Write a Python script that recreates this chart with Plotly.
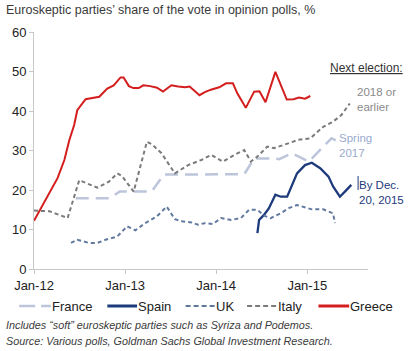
import plotly.graph_objects as go

# x values: months since Jan-2012
tick_vals = [0, 12, 24, 36]
tick_text = ["Jan-12", "Jan-13", "Jan-14", "Jan-15"]
y_ticks = [0, 10, 20, 30, 40, 50, 60]

france_x = [5.5, 9.9, 11.3, 15.5, 17.1, 27.7, 29.0, 31.5, 32.3, 34.0, 36.2, 39.2, 40.1]
france_y = [17.9, 17.9, 19.6, 19.6, 23.9, 24.0, 28.0, 28.0, 27.8, 29.3, 27.2, 33.1, 32.2]

spain_x = [29.43, 29.65, 30.3, 30.95, 31.8, 32.5, 33.35, 34.65, 35.7, 36.6, 37.7, 38.8, 39.4, 40.3, 40.96, 41.8]
spain_y = [9.1, 12.4, 13.7, 15.4, 18.8, 18.3, 18.3, 24.2, 26.3, 26.9, 25.5, 23.4, 20.9, 18.3, 19.6, 21.3]

uk_x = [4.87, 5.7, 7.26, 8.35, 9.43, 10.96, 12.26, 13.35, 14.65, 16.17, 17.48, 18.56, 19.66, 20.74, 21.6,
        22.47, 23.57, 24.65, 25.96, 27.26, 28.34, 29.43, 30.3, 31.17, 32.48, 33.56, 34.65, 35.5, 36.6, 38.1,
        39.4, 39.65]
uk_y = [6.6, 7.4, 6.6, 6.6, 7.4, 8.2, 10.8, 9.8, 11.6, 13.3, 15.8, 12.6, 12.0, 11.8, 11.2,
        11.6, 11.4, 12.9, 12.4, 12.9, 15.0, 15.0, 13.5, 12.9, 14.1, 15.4, 16.2, 15.8, 15.1, 15.1,
        14.1, 11.6]

italy_x = [0, 2.05, 4.43, 5.96, 6.8, 8.35, 9.87, 10.96, 11.6, 13.13, 14.87, 15.5, 16.8, 18.56, 20.3,
           22.04, 23.35, 24.87, 26.4, 27.7, 28.57, 29.4, 30.74, 31.6, 32.87, 34.83, 36.4, 38.1, 39.4,
           40.5, 41.6]
italy_y = [14.8, 14.6, 12.9, 22.5, 21.8, 20.6, 22.1, 24.2, 23.5, 19.6, 32.2, 31.6, 29.3, 24.2, 26.3,
           27.6, 28.9, 27.2, 28.9, 30.1, 27.2, 28.4, 31.0, 30.6, 31.4, 32.7, 33.1, 36.0, 37.3,
           39.0, 41.9]

greece_x = [0, 1.6, 3.1, 4.0, 4.65, 5.3, 5.7, 6.8, 7.9, 8.6, 9.65, 10.5, 11.4, 11.8, 12.5, 13.1, 13.8,
            14.4, 15.3, 16.2, 17.0, 18.1, 19.0, 19.9, 20.5, 21.8, 22.5, 23.3, 24.4, 25.3, 26.2, 26.8,
            27.9, 29.0, 29.7, 30.5, 31.8, 33.3, 34.2, 34.9, 35.7, 36.4]
greece_y = [12.2, 17.9, 23.0, 27.6, 32.6, 36.5, 40.2, 43.0, 43.4, 43.6, 45.7, 46.5, 48.5, 48.5, 46.3,
            45.8, 45.8, 46.5, 46.3, 45.9, 44.9, 46.5, 46.2, 46.0, 46.2, 44.0, 44.8, 45.4, 46.0, 47.0,
            47.0, 44.4, 40.8, 44.9, 45.0, 42.2, 49.9, 42.9, 43.0, 43.4, 43.1, 43.8]

series_names = ["France", "Spain", "UK", "Italy", "Greece"]

FONT = "Liberation Sans, Arial, sans-serif"
styles = {
    "France": dict(color="#bcc5da", width=2.5, dash="13px,7px"),
    "Spain": dict(color="#1d3a7c", width=2.3),
    "UK": dict(color="#62799f", width=2, dash="4px,3px"),
    "Italy": dict(color="#7a7a7a", width=2, dash="4px,3px"),
    "Greece": dict(color="#d41e1e", width=2),
}
data = {
    "France": (france_x, france_y),
    "Spain": (spain_x, spain_y),
    "UK": (uk_x, uk_y),
    "Italy": (italy_x, italy_y),
    "Greece": (greece_x, greece_y),
}

fig = go.Figure()
for name in series_names:
    xs, ys = data[name]
    fig.add_trace(go.Scatter(x=xs, y=ys, name=name, mode="lines", line=styles[name],
                             showlegend=False))

fig.update_layout(
    width=420, height=351,
    margin=dict(l=31, r=52, t=32, b=82),
    paper_bgcolor="white", plot_bgcolor="white",
    font=dict(family=FONT, size=13, color="#222222"),
    showlegend=False,
    xaxis=dict(range=[0, 44], tickvals=tick_vals, ticktext=tick_text, showgrid=False,
               zeroline=False, showline=True, linecolor="#c8c8c8", linewidth=1,
               ticks="outside", ticklen=4, tickcolor="#c8c8c8", fixedrange=True),
    yaxis=dict(range=[0, 60], tickvals=y_ticks, showgrid=False, zeroline=False,
               showline=True, linecolor="#c8c8c8", linewidth=1,
               ticks="outside", ticklen=4, tickcolor="#c8c8c8", fixedrange=True),
)

# Legend (drawn manually to match entry spacing)
PW, PH = 337.0, 237.0
def px(x):
    return (x - 31) / PW
def py(y):
    return (269 - y) / PH

legend_sym = {"France": (16, 48), "Spain": (105, 135), "UK": (184, 214), "Italy": (246, 276), "Greece": (318, 349)}
legend_y = 306
for name in series_names:
    x0, x1 = legend_sym[name]
    st = dict(styles[name])
    if name == "France":
        st["dash"] = "16px,6px"
    elif name in ("UK", "Italy"):
        st["dash"] = "5px,3px"
    if name in ("Spain", "Greece"):
        st["width"] = 3
    fig.add_shape(type="line", xref="paper", yref="paper", x0=px(x0), x1=px(x1),
                  y0=py(legend_y), y1=py(legend_y), line=st, layer="above")
    fig.add_annotation(text=name, xref="paper", yref="paper", x=px(x1 - 1), y=py(legend_y),
                       xanchor="left", yanchor="middle", showarrow=False,
                       font=dict(size=13, color="#222222", family=FONT))

fig.add_annotation(text="Euroskeptic parties\u2019 share of the vote in opinion polls, %",
                   xref="paper", yref="paper", x=px(1), y=py(10), xanchor="left", yanchor="middle",
                   showarrow=False, font=dict(size=12.5, color="#3a3a3a", family=FONT))
fig.add_annotation(text="<span style='text-decoration:underline'>Next election:</span>",
                   xref="paper", yref="paper", x=px(405), y=py(68), xanchor="right", yanchor="middle",
                   showarrow=False, font=dict(size=12, color="#333333", family=FONT))
fig.add_annotation(text="2018 or<br>earlier", xref="paper", yref="paper", x=px(355), y=py(99),
                   xanchor="left", yanchor="middle", align="left", showarrow=False,
                   font=dict(size=11.5, color="#8a8a8a", family=FONT))
fig.add_annotation(text="Spring<br>2017", xref="paper", yref="paper", x=px(337), y=py(145),
                   xanchor="left", yanchor="middle", align="left", showarrow=False,
                   font=dict(size=11.5, color="#9aaace", family=FONT))
fig.add_annotation(text="By Dec.<br>20, 2015", xref="paper", yref="paper", x=px(357), y=py(192),
                   xanchor="left", yanchor="middle", align="left", showarrow=False,
                   font=dict(size=11.5, color="#1d3a7c", family=FONT))
fig.add_shape(type="line", xref="paper", yref="paper", x0=px(358), x1=px(358), y0=py(190), y1=py(176),
              line=dict(color="#1d3a7c", width=1))
fig.add_annotation(text="<i>Includes \u201csoft\u201d euroskeptic parties such as Syriza and Podemos.</i>",
                   xref="paper", yref="paper", x=px(1), y=py(325), xanchor="left", yanchor="middle",
                   showarrow=False, font=dict(size=10.8, color="#3a3a3a", family=FONT))
fig.add_annotation(text="<i>Source: Various polls, Goldman Sachs Global Investment Research.</i>",
                   xref="paper", yref="paper", x=px(1), y=py(341), xanchor="left", yanchor="middle",
                   showarrow=False, font=dict(size=10.8, color="#3a3a3a", family=FONT))

fig.write_html("out.html")
